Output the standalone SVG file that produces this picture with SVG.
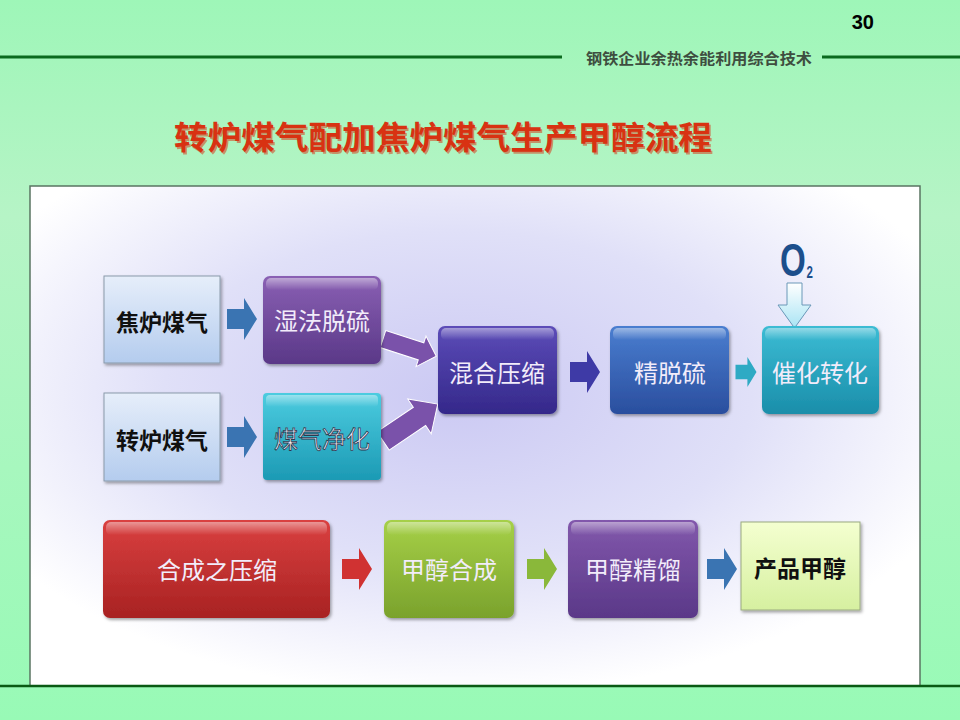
<svg xmlns="http://www.w3.org/2000/svg" width="960" height="720" viewBox="0 0 960 720">
<defs>
<linearGradient id="bg" x1="0" y1="0" x2="0" y2="1">
<stop offset="0" stop-color="#9ef6b8"/>
<stop offset="0.3" stop-color="#b6f4c6"/>
<stop offset="1" stop-color="#98fab6"/>
</linearGradient>
<radialGradient id="glow" cx="0.48" cy="0.42" r="0.6">
<stop offset="0" stop-color="#cbc9f3"/>
<stop offset="0.55" stop-color="#e0e0f8"/>
<stop offset="1" stop-color="#ffffff"/>
</radialGradient>
<linearGradient id="gLight" x1="0" y1="0" x2="0" y2="1"><stop offset="0" stop-color="#e6eefa"/><stop offset="1" stop-color="#b4ccee"/></linearGradient>
<linearGradient id="gYel" x1="0" y1="0" x2="0" y2="1"><stop offset="0" stop-color="#f4ffd0"/><stop offset="1" stop-color="#d6f0a0"/></linearGradient>
<linearGradient id="gPur" x1="0" y1="0" x2="0" y2="1"><stop offset="0" stop-color="#8a60b4"/><stop offset="1" stop-color="#5a3888"/></linearGradient>
<linearGradient id="gTeal" x1="0" y1="0" x2="0" y2="1"><stop offset="0" stop-color="#4ccce0"/><stop offset="1" stop-color="#1c9ab4"/></linearGradient>
<linearGradient id="gInd" x1="0" y1="0" x2="0" y2="1"><stop offset="0" stop-color="#5c4cb8"/><stop offset="1" stop-color="#34288a"/></linearGradient>
<linearGradient id="gBlue" x1="0" y1="0" x2="0" y2="1"><stop offset="0" stop-color="#4a7ed0"/><stop offset="1" stop-color="#2a4e9e"/></linearGradient>
<linearGradient id="gTeal2" x1="0" y1="0" x2="0" y2="1"><stop offset="0" stop-color="#3cbcd4"/><stop offset="1" stop-color="#1a8eaa"/></linearGradient>
<linearGradient id="gRed" x1="0" y1="0" x2="0" y2="1"><stop offset="0" stop-color="#da4040"/><stop offset="1" stop-color="#a82222"/></linearGradient>
<linearGradient id="gGrn" x1="0" y1="0" x2="0" y2="1"><stop offset="0" stop-color="#a6d048"/><stop offset="1" stop-color="#7aa22c"/></linearGradient>
<linearGradient id="gPur2" x1="0" y1="0" x2="0" y2="1"><stop offset="0" stop-color="#8258ac"/><stop offset="1" stop-color="#5a3888"/></linearGradient>
<linearGradient id="gO2" x1="0" y1="0" x2="0" y2="1"><stop offset="0" stop-color="#ffffff"/><stop offset="1" stop-color="#a8e4f4"/></linearGradient>
<linearGradient id="shine" x1="0" y1="0" x2="0" y2="1"><stop offset="0" stop-color="#ffffff" stop-opacity="0.45"/><stop offset="1" stop-color="#ffffff" stop-opacity="0"/></linearGradient>
<filter id="sh" x="-10%" y="-10%" width="130%" height="130%"><feDropShadow dx="1.5" dy="2" stdDeviation="1.5" flood-color="#000" flood-opacity="0.35"/></filter>
<path id="harrow" d="M-15,-10 L2,-10 L2,-21 L15,0 L2,21 L2,10 L-15,10 Z"/>
</defs>
<style>
.hdr{font-family:"Noto Sans CJK SC","Liberation Sans",sans-serif;font-weight:700;font-size:15px;fill:#3e4e40;}
.title{font-family:"Noto Sans CJK SC","Liberation Sans",sans-serif;font-weight:700;font-size:32px;fill:#d83212;}
.lt{font-family:"Noto Sans CJK SC","Liberation Sans",sans-serif;font-size:24px;fill:#f2ecfa;text-anchor:middle;dominant-baseline:central;}
.dk{font-family:"Noto Sans CJK SC","Liberation Sans",sans-serif;font-weight:700;font-size:23px;fill:#101010;text-anchor:middle;dominant-baseline:central;}
</style>
<rect width="960" height="720" fill="url(#bg)"/>
<text x="874" y="29" font-family="Liberation Sans, Arial, sans-serif" font-weight="700" font-size="20" fill="#000" text-anchor="end">30</text>
<line x1="0" y1="57" x2="562" y2="57" stroke="#0a6a1e" stroke-width="3"/>
<line x1="822" y1="57" x2="960" y2="57" stroke="#0a6a1e" stroke-width="3"/>
<text class="hdr" x="586" y="64" textLength="226" lengthAdjust="spacingAndGlyphs">钢铁企业余热余能利用综合技术</text>
<text class="title" x="174" y="149" fill="#7a1a08" opacity="0.5" textLength="538" lengthAdjust="spacingAndGlyphs" transform="translate(1.5,1.5)">转炉煤气配加焦炉煤气生产甲醇流程</text>
<text class="title" x="174" y="149" textLength="538" lengthAdjust="spacingAndGlyphs">转炉煤气配加焦炉煤气生产甲醇流程</text>
<rect x="30" y="186" width="890" height="500" fill="url(#glow)" stroke="#5a7462" stroke-width="1.5"/>
<line x1="0" y1="686" x2="960" y2="686" stroke="#0a5a14" stroke-width="2.5"/>

<g id="connectors">
<use href="#harrow" transform="translate(242,319)" fill="#3a74b2"/>
<use href="#harrow" transform="translate(242,437)" fill="#3a74b2"/>
<path d="M0,-9 L40,-9 L40,-16 L56,0 L40,16 L40,9 L0,9 Z" transform="translate(383,339) rotate(18)" fill="#7a52aa" stroke="#ffffff" stroke-width="1"/>
<path d="M0,-11 L44,-11 L44,-21 L66,0 L44,21 L44,11 L0,11 Z" transform="translate(383,441) rotate(-34)" fill="#7a52aa" stroke="#ffffff" stroke-width="1"/>
<use href="#harrow" transform="translate(585,372)" fill="#3e3aa6"/>
<use href="#harrow" transform="translate(746,372) scale(0.7,0.72)" fill="#2eaac4"/>
<path d="M787,283 L802,283 L802,305 L811,305 L794.5,328 L778,305 L787,305 Z" fill="url(#gO2)" stroke="#6a98b8" stroke-width="1"/>
<use href="#harrow" transform="translate(357,569)" fill="#d03232"/>
<use href="#harrow" transform="translate(542,569)" fill="#8ab83a"/>
<use href="#harrow" transform="translate(722,569)" fill="#3a74b2"/>
</g>

<g id="o2">
<text transform="translate(780,276) scale(0.72,1)" font-family="Liberation Sans, Arial, sans-serif" font-weight="700" font-size="46" fill="#1c4f8c">O<tspan font-size="16" dx="1" dy="2">2</tspan></text>
</g>

<g id="n-jiaolu">
<rect x="104" y="276" width="116" height="87" fill="url(#gLight)" stroke="#8a9aaa" filter="url(#sh)"/>
<text class="dk" x="162" y="321">焦炉煤气</text>
</g>
<g id="n-zhuanlu">
<rect x="104" y="393" width="116" height="88" fill="url(#gLight)" stroke="#8a9aaa" filter="url(#sh)"/>
<text class="dk" x="162" y="439">转炉煤气</text>
</g>
<g id="n-shifa">
<rect x="263" y="276" width="118" height="88" rx="7" fill="url(#gPur)" filter="url(#sh)"/>
<rect x="266" y="278" width="112" height="12" rx="5" fill="url(#shine)"/>
<text class="lt" x="322" y="319">湿法脱硫</text>
</g>
<g id="n-jinghua">
<rect x="263" y="393" width="118" height="87" rx="4" fill="url(#gTeal)" filter="url(#sh)"/>
<rect x="266" y="395" width="112" height="12" rx="4" fill="url(#shine)"/>
<text class="lt" x="322" y="437" stroke="#2a3a50" stroke-width="0.8" fill="#e8fbff">煤气净化</text>
</g>
<g id="n-hunhe">
<rect x="438" y="326" width="119" height="88" rx="7" fill="url(#gInd)" filter="url(#sh)"/>
<rect x="441" y="328" width="113" height="12" rx="5" fill="url(#shine)"/>
<text class="lt" x="497" y="371">混合压缩</text>
</g>
<g id="n-jingtuo">
<rect x="610" y="326" width="119" height="88" rx="7" fill="url(#gBlue)" filter="url(#sh)"/>
<rect x="613" y="328" width="113" height="12" rx="5" fill="url(#shine)"/>
<text class="lt" x="670" y="371">精脱硫</text>
</g>
<g id="n-cuihua">
<rect x="762" y="326" width="117" height="88" rx="7" fill="url(#gTeal2)" filter="url(#sh)"/>
<rect x="765" y="328" width="111" height="12" rx="5" fill="url(#shine)"/>
<text class="lt" x="820" y="371">催化转化</text>
</g>
<g id="n-hecheng-ys">
<rect x="103" y="520" width="227" height="98" rx="7" fill="url(#gRed)" filter="url(#sh)"/>
<rect x="106" y="522" width="221" height="13" rx="5" fill="url(#shine)"/>
<text class="lt" x="217" y="568" font-size="26">合成之压缩</text>
</g>
<g id="n-jiachun-hc">
<rect x="384" y="520" width="130" height="98" rx="7" fill="url(#gGrn)" filter="url(#sh)"/>
<rect x="387" y="522" width="124" height="13" rx="5" fill="url(#shine)"/>
<text class="lt" x="449" y="568" font-size="25">甲醇合成</text>
</g>
<g id="n-jingliu">
<rect x="568" y="520" width="130" height="98" rx="7" fill="url(#gPur2)" filter="url(#sh)"/>
<rect x="571" y="522" width="124" height="13" rx="5" fill="url(#shine)"/>
<text class="lt" x="633" y="568" font-size="25">甲醇精馏</text>
</g>
<g id="n-chanpin">
<rect x="741" y="522" width="119" height="88" fill="url(#gYel)" stroke="#9aaa80" filter="url(#sh)"/>
<text class="dk" x="800" y="567">产品甲醇</text>
</g>
</svg>
